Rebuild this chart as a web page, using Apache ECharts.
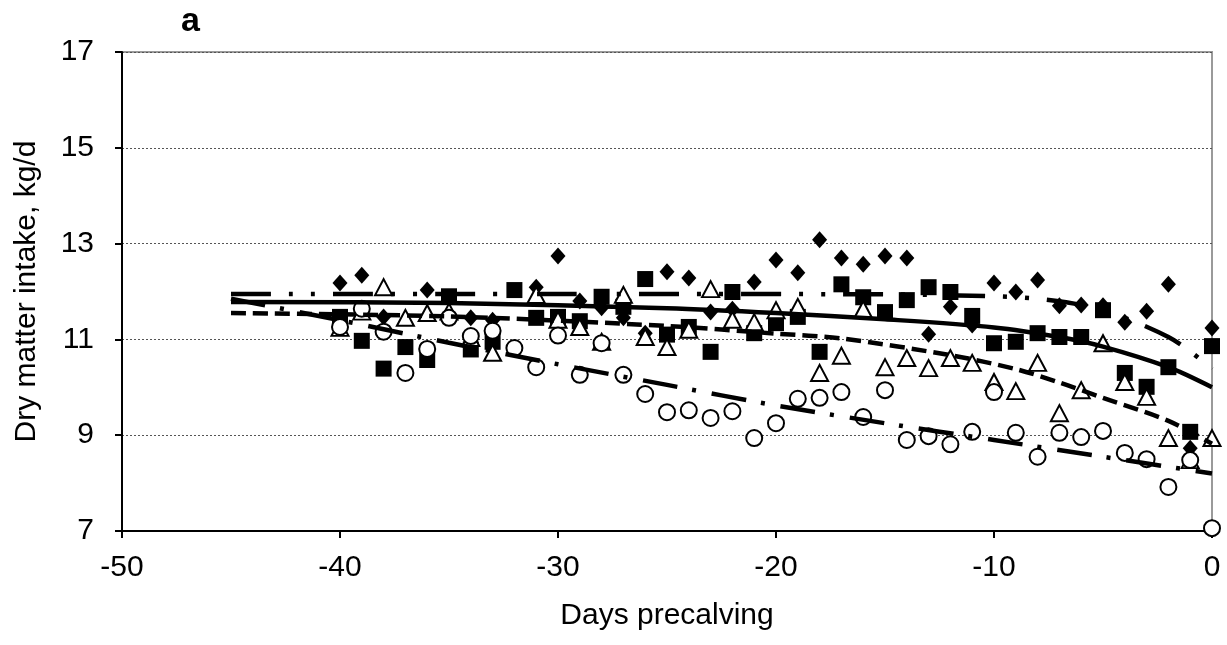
<!DOCTYPE html>
<html>
<head>
<meta charset="utf-8">
<script src="https://cdn.jsdelivr.net/npm/echarts@6/dist/echarts.min.js"></script>
<style>
  html, body { margin: 0; padding: 0; background: #fff; }
  #chart { width: 1227px; height: 645px; }
</style>
</head>
<body>
<div id="chart"></div>
<script>
var days = [-40,-39,-38,-37,-36,-35,-34,-33,-32,-31,-30,-29,-28,-27,-26,-25,-24,-23,-22,-21,-20,
            -19,-18,-17,-16,-15,-14,-13,-12,-11,-10,-9,-8,-7,-6,-5,-4,-3,-2,-1,0];

// filled diamonds (no value on -37, -32)
var diamondDays = [-40,-39,-38,-36,-35,-34,-33,-31,-30,-29,-28,-27,-26,-25,-24,-23,-22,-21,-20,
                   -19,-18,-17,-16,-15,-14,-13,-12,-11,-10,-9,-8,-7,-6,-5,-4,-3,-2,-1,0];
var diamondVals = [12.18,12.34,11.47,12.03,11.45,11.45,11.40,12.09,12.74,11.80,11.66,11.45,11.13,12.41,12.28,11.57,11.63,12.20,12.66,
                   12.39,13.08,12.70,12.57,12.74,12.70,11.11,11.68,11.30,12.18,11.99,12.24,11.70,11.72,11.70,11.36,11.59,12.15,8.73,11.24];

// filled squares
var squareVals = [11.47,10.97,10.39,10.84,10.57,11.90,10.79,10.95,12.03,11.45,11.47,11.38,11.89,11.68,12.26,11.10,11.26,10.74,11.99,11.13,11.34,
                  11.47,10.74,12.15,11.88,11.57,11.82,12.09,11.99,11.49,10.92,10.95,11.13,11.05,11.05,11.61,10.30,10.01,10.42,9.07,10.86];

// open triangles (no value on -32)
var triangleDays = [-40,-39,-38,-37,-36,-35,-34,-33,-31,-30,-29,-28,-27,-26,-25,-24,-23,-22,-21,-20,
                    -19,-18,-17,-16,-15,-14,-13,-12,-11,-10,-9,-8,-7,-6,-5,-4,-3,-2,-1,0];
var triangleVals = [11.24,11.58,12.09,11.45,11.55,11.58,11.03,10.72,11.93,11.41,11.26,10.95,11.93,11.05,10.84,11.20,12.05,11.41,11.36,11.61,
                    11.68,10.30,10.66,11.63,10.42,10.61,10.40,10.61,10.51,10.11,9.92,10.51,9.46,9.94,10.92,10.11,9.80,8.94,8.48,8.94];

// open circles
var circleVals = [11.26,11.64,11.16,10.30,10.80,11.45,11.07,11.18,10.82,10.42,11.08,10.26,10.92,10.26,9.86,9.48,9.52,9.36,9.50,8.94,9.25,
                  9.76,9.78,9.90,9.38,9.94,8.90,8.98,8.81,9.07,9.90,9.05,8.55,9.05,8.96,9.09,8.63,8.50,7.92,8.48,7.06];

// fitted curves
var fitDiamondX = [-45,-30,-15,-10,-8,-6,-4,-2,-1,0];
var fitDiamondY = [11.95,11.95,11.94,11.9,11.85,11.72,11.45,11.05,10.75,10.38];
var fitSquareX = [-45,-35,-25,-20,-15,-10,-7,-5,-2,0];
var fitSquareY = [11.78,11.76,11.65,11.55,11.42,11.25,11.05,10.85,10.42,10.0];
var fitTriangleX = [-45,-35,-25,-20,-17,-12,-9,-7,-5,-2,0];
var fitTriangleY = [11.55,11.48,11.28,11.12,11.02,10.67,10.38,10.10,9.78,9.30,8.82];
var fitCircleX = [-45,-40,-35,-30,-25,-20,-15,-10,-5,0];
var fitCircleY = [11.85,11.40,10.93,10.48,10.05,9.62,9.25,8.90,8.55,8.20];

var yTicks = [7, 9, 11, 13, 15, 17];
var xTicks = [-50, -40, -30, -20, -10, 0];

function pairs(xs, ys) {
    var out = [];
    for (var i = 0; i < xs.length; i++) out.push([xs[i], ys[i]]);
    return out;
}

var font = 'Liberation Sans, Arial, sans-serif';
var myChart = echarts.init(document.getElementById('chart'), null, {renderer: 'canvas'});

function fitLine(name, xs, ys, dash) {
    return {
        name: name,
        type: 'line',
        data: pairs(xs, ys),
        smooth: 0.3,
        showSymbol: false,
        silent: true,
        z: 3,
        lineStyle: {color: '#000', width: 4.5, type: dash, opacity: 1}
    };
}

option = {
    backgroundColor: '#fff',
    animation: false,
    title: {
        text: 'a',
        left: 176,
        top: 0,
        textStyle: {fontFamily: font, fontSize: 34, fontWeight: 'bold', color: '#000'}
    },
    grid: {
        left: 122, right: 15, top: 52, bottom: 114,
        show: true, borderColor: '#9a9a9a', borderWidth: 2
    },
    xAxis: {
        type: 'value',
        min: xTicks[0], max: xTicks[xTicks.length - 1], interval: 10,
        name: 'Days precalving',
        nameLocation: 'middle',
        nameGap: 70,
        nameTextStyle: {fontFamily: font, fontSize: 30, color: '#000'},
        axisLine: {onZero: false, lineStyle: {color: '#000', width: 2}},
        axisTick: {show: true, length: 7, lineStyle: {color: '#000', width: 2}},
        axisLabel: {fontFamily: font, fontSize: 30, color: '#000', margin: 22},
        splitLine: {show: false}
    },
    yAxis: {
        type: 'value',
        min: yTicks[0], max: yTicks[yTicks.length - 1], interval: 2,
        name: 'Dry matter intake, kg/d',
        nameLocation: 'middle',
        nameGap: 80,
        nameTextStyle: {fontFamily: font, fontSize: 30, color: '#000'},
        axisLine: {show: true, onZero: false, lineStyle: {color: '#000', width: 2}},
        axisTick: {show: true, length: 7, lineStyle: {color: '#000', width: 2}},
        axisLabel: {fontFamily: font, fontSize: 30, color: '#000', margin: 28},
        splitLine: {show: true, lineStyle: {color: '#555', width: 1, type: [2, 2]}}
    },
    series: [
        {
            name: 'diamond', type: 'scatter', symbol: 'diamond', symbolSize: [15, 17],
            data: pairs(diamondDays, diamondVals),
            itemStyle: {color: '#000', opacity: 1}, z: 2
        },
        {
            name: 'square', type: 'scatter', symbol: 'rect', symbolSize: 16,
            data: pairs(days, squareVals),
            itemStyle: {color: '#000', opacity: 1}, z: 2
        },
        {
            name: 'triangle', type: 'scatter', symbol: 'triangle', symbolSize: [17, 16],
            data: pairs(triangleDays, triangleVals),
            itemStyle: {color: '#fff', borderColor: '#000', borderWidth: 2, opacity: 1}, z: 2
        },
        {
            name: 'circle', type: 'scatter', symbol: 'circle', symbolSize: 16,
            data: pairs(days, circleVals),
            itemStyle: {color: '#fff', borderColor: '#000', borderWidth: 2, opacity: 1}, z: 2
        },
        fitLine('fit diamond', fitDiamondX, fitDiamondY, [40, 18, 4, 18, 4, 18]),
        fitLine('fit square', fitSquareX, fitSquareY, 'solid'),
        fitLine('fit triangle', fitTriangleX, fitTriangleY, [15, 7]),
        fitLine('fit circle', fitCircleX, fitCircleY, [35, 15, 4, 16])
    ]
};

myChart.setOption(option);
</script>
</body>
</html>
